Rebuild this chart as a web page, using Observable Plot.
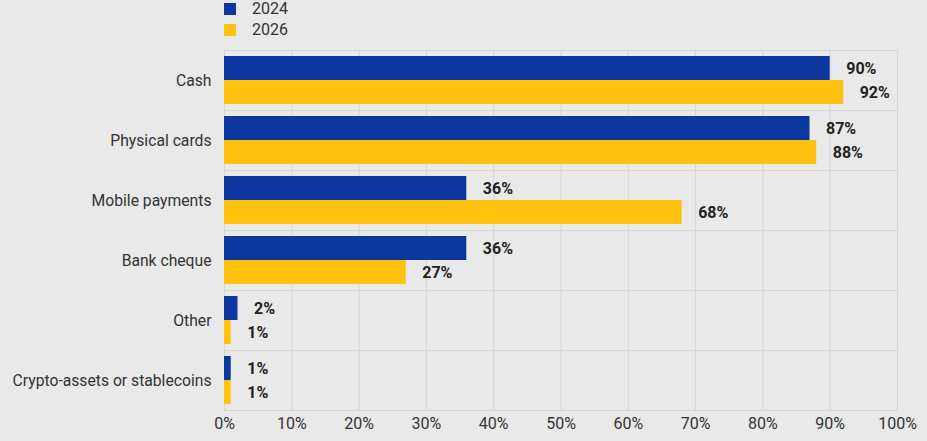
<!DOCTYPE html>
<html>
<head>
<meta charset="utf-8">
<script src="https://cdn.jsdelivr.net/npm/d3@7"></script>
<script src="https://cdn.jsdelivr.net/npm/@observablehq/plot@0.6"></script>
<style>
  html, body { margin: 0; padding: 0; background: #e9e9e9; width: 927px; height: 441px; overflow: hidden; font-family: Roboto, "Liberation Sans", Arial, sans-serif; }
  #wrap { position: relative; width: 927px; height: 441px; }
  #legend { position: absolute; left: 224px; top: 0; font-size: 16px; color: #333; }
  .item { position: relative; height: 21px; }
  .sw { position: absolute; left: 0; top: 3px; width: 12px; height: 12px; }
  .lb { position: absolute; left: 28px; top: 0px; line-height: 18px; }
  #chart { position: absolute; left: 0; top: 0; }
</style>
</head>
<body>
<div id="wrap">
  <div id="chart"></div>
  <div id="legend"></div>
</div>
<script>
const categories = ["Cash", "Physical cards", "Mobile payments", "Bank cheque", "Other", "Crypto-assets or stablecoins"];
const years = ["2024", "2026"];
const values2024 = [90, 87, 36, 36, 2, 1];
const values2026 = [92, 88, 68, 27, 1, 1];
const xTicks = [0, 10, 20, 30, 40, 50, 60, 70, 80, 90, 100];
const colors = ["#0b379f", "#ffc20e"];

const rows = [];
categories.forEach((c, i) => {
  rows.push({category: c, year: years[0], value: values2024[i]});
  rows.push({category: c, year: years[1], value: values2026[i]});
});

const chart = Plot.plot({
  width: 927,
  height: 441,
  marginTop: 50,
  marginBottom: 31,
  marginLeft: 224,
  marginRight: 30,
  style: {background: "transparent", fontFamily: "Roboto, Liberation Sans, Arial, sans-serif", fontSize: "16px", color: "#333"},
  x: {domain: [0, 100]},
  y: {domain: years, paddingInner: 0, paddingOuter: 0.25, axis: null},
  fy: {domain: categories, padding: 0},
  color: {domain: years, range: colors},
  marks: [
    Plot.gridX(xTicks, {stroke: "#d6d6d6", strokeOpacity: 1}),
    Plot.frame({anchor: "top", stroke: "#d6d6d6", strokeOpacity: 1}),
    Plot.frame({anchor: "bottom", stroke: "#d6d6d6", strokeOpacity: 1}),
    Plot.barX(rows, {x: "value", y: "year", fy: "category", fill: "year", inset: 0}),
    Plot.text(rows, {x: "value", y: "year", fy: "category", text: d => d.value + "%", textAnchor: "start", dx: 16, fontWeight: "bold", fontSize: 16, fill: "#222"}),
    Plot.axisX({ticks: xTicks, tickFormat: d => d + "%", tickSize: 0, tickPadding: 7, fontSize: 16, label: null, anchor: "bottom", fill: "#333"}),
    Plot.axisFy({anchor: "left", tickSize: 0, tickPadding: 13, fontSize: 15.7, label: null, fill: "#333"})
  ]
});
document.getElementById("chart").appendChild(chart);

const legend = document.getElementById("legend");
years.forEach((y, i) => {
  const item = document.createElement("div");
  item.className = "item";
  const sw = document.createElement("div");
  sw.className = "sw";
  sw.style.background = colors[i];
  const lb = document.createElement("div");
  lb.className = "lb";
  lb.textContent = y;
  item.appendChild(sw);
  item.appendChild(lb);
  legend.appendChild(item);
});
</script>
</body>
</html>
